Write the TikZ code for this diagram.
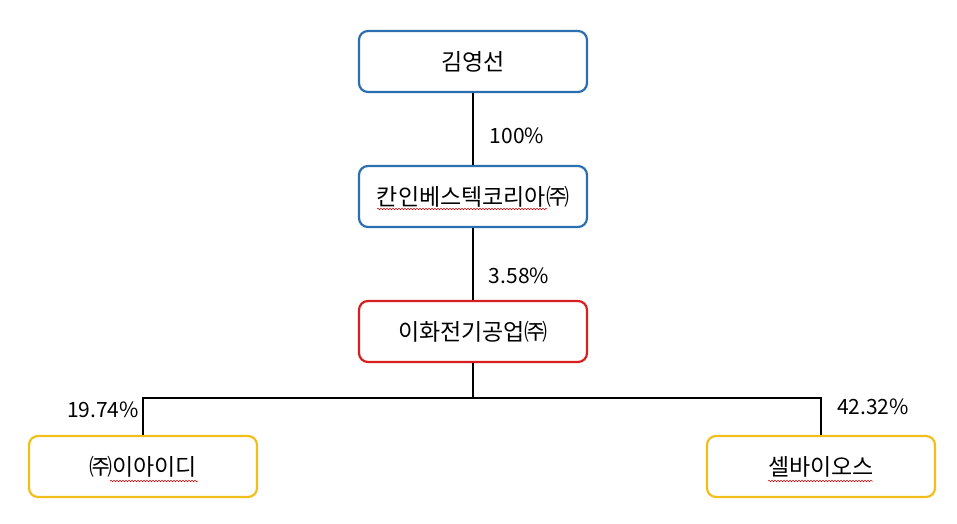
\documentclass[tikz,border=0pt]{standalone}
\usepackage{fontspec}
\setmainfont{Noto Sans CJK KR}
\usetikzlibrary{decorations.pathmorphing}
\definecolor{boxblue}{HTML}{2A6FB0}
\definecolor{boxred}{HTML}{D81E1E}
\definecolor{boxgold}{HTML}{F2BE1A}
\begin{document}
\begin{tikzpicture}[x=1pt,y=-1pt,
  orgbox/.style={draw,line width=2.2pt,rounded corners=9pt,minimum width=228pt,minimum height=61pt,inner sep=0pt,font=\fontsize{23}{27}\selectfont,fill=white},
  link/.style={line width=1.9pt,black},
  pct/.style={font=\fontsize{21}{24}\selectfont,inner sep=0pt},
  spell/.style={red!80!black,line width=0.5pt,decorate,decoration={snake,amplitude=0.8pt,segment length=3pt}}]
\useasboundingbox (0,0) rectangle (957,523);
\node[orgbox,draw=boxblue] (a) at (473,61.5) {김영선};
\node[orgbox,draw=boxblue] (b) at (473,196.5) {칸인베스텍코리아㈜};
\node[orgbox,draw=boxred] (c) at (473,331.5) {이화전기공업㈜};
\node[orgbox,draw=boxgold] (d) at (143,466.5) {㈜이아이디};
\node[orgbox,draw=boxgold] (e) at (821,466.5) {셀바이오스};
\coordinate (j) at (473,398);
\coordinate (jl) at (143,398);
\coordinate (jr) at (821,398);
\draw[link] (a) -- (b);
\draw[link] (b) -- (c);
\draw[link] (c) -- (j);
\draw[link] (d) -- (jl) -- (jr) -- (e);
\node[pct] (p1) at (517,136) {100\%};
\node[pct] (p2) at (519,276) {3.58\%};
\node[pct] (p3) at (103,410) {19.74\%};
\node[pct] (p4) at (873,407) {42.32\%};
\draw[spell] (377,209) -- (547,209);
\draw[spell] (110,481) -- (198,481);
\draw[spell] (768,481) -- (873,481);
\end{tikzpicture}
\end{document}
